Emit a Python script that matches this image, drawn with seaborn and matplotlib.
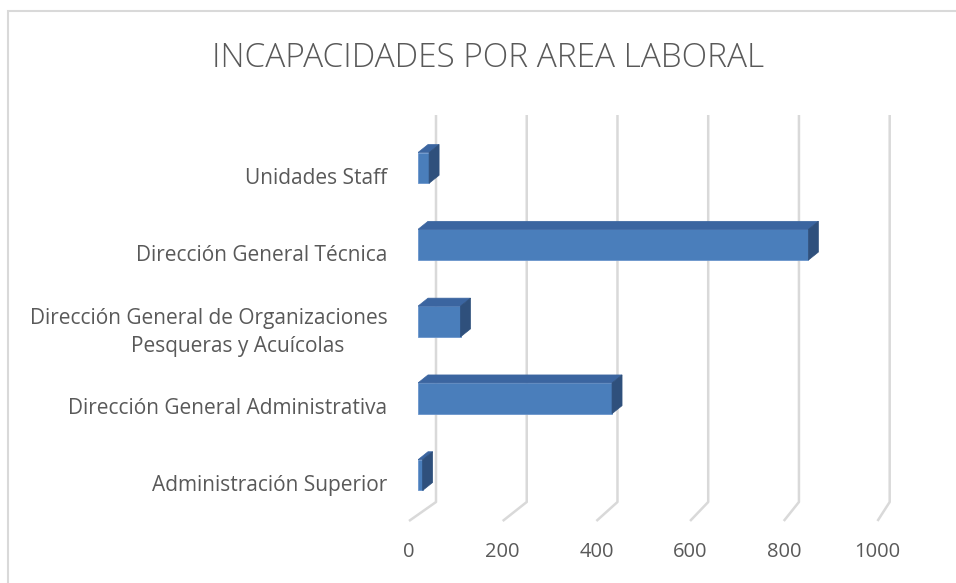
import matplotlib
matplotlib.use("Agg")
import matplotlib.pyplot as plt
from matplotlib.transforms import IdentityTransform, ScaledTranslation
from matplotlib.patches import Polygon, Rectangle
from matplotlib.lines import Line2D
import seaborn as sns
import pandas as pd

# ---- data ----
areas = [
    "Unidades Staff",
    "Dirección General Técnica",
    "Dirección General de Organizaciones\nPesqueras y Acuícolas        ",
    "Dirección General Administrativa",
    "Administración Superior",
]
valores = [24, 845, 92, 420, 10]
xticks = [0, 200, 400, 600, 800, 1000]
title = "INCAPACIDADES POR AREA LABORAL"

df = pd.DataFrame({"area": areas, "valor": valores})

sns.set_theme(style="white")
plt.rcParams["font.family"] = ["Open Sans", "DejaVu Sans"]

W, H = 956, 583
FRONT = "#4a7ebb"
TOP = "#3b65a0"
SIDE = "#2f507c"
TXT = "#595959"
GRID = "#d9d9d9"

fig = plt.figure(figsize=(W / 100, H / 100), dpi=100)
fig.patch.set_facecolor("white")

ax_left, ax_right, ax_top, ax_bot = 418, 880, 129.5, 513.5
ax = fig.add_axes([ax_left / W, (H - ax_bot) / H, (ax_right - ax_left) / W, (ax_bot - ax_top) / H])
ax.patch.set_visible(False)

sns.barplot(data=df, y="area", x="valor", orient="h", width=0.4, color=FRONT,
            saturation=1, ax=ax, edgecolor="#6a95cc", linewidth=0.6, zorder=3)
ax.set_xlim(0, 1000)
ax.set_xlabel("")
ax.set_ylabel("")
for s in ax.spines.values():
    s.set_visible(False)
ax.set_xticks([])
ax.tick_params(axis="y", length=0, pad=22, labelsize=15, labelcolor=TXT)
for lab in ax.get_yticklabels():
    shift = -5 if "\n" in lab.get_text() else -8
    off = ScaledTranslation(0, shift / 100, fig.dpi_scale_trans)
    lab.set_transform(lab.get_transform() + off)
    lab.set_multialignment("right")
    lab.set_linespacing(1.45)

# ---- 3D tops and sides derived from the bar patches ----
dx, dy = 10, 8
for p in list(ax.patches):
    bb = p.get_window_extent()
    x0, y0, x1, y1 = bb.x0, bb.y0, bb.x1, bb.y1
    top = Polygon([(x0, y1), (x1, y1), (x1 + dx, y1 + dy), (x0 + dx, y1 + dy)],
                  closed=True, transform=IdentityTransform(), facecolor=TOP,
                  edgecolor=TOP, linewidth=0.5, zorder=4)
    side = Polygon([(x1, y0), (x1, y1), (x1 + dx, y1 + dy), (x1 + dx, y0 + dy)],
                   closed=True, transform=IdentityTransform(), facecolor=SIDE,
                   edgecolor=SIDE, linewidth=0.5, zorder=4)
    ax.add_artist(top)
    ax.add_artist(side)

# ---- perspective gridlines and x tick labels ----
face0 = ax.transData.transform((0, 0))[0]
for v in xticks:
    face = ax.transData.transform((v, 0))[0]
    bx = face0 + 18 + (face - face0) * 0.982
    fx = face0 - 9 + (face - face0) * 1.014
    ln = Line2D([bx, bx, fx], [H - 115, H - 502, H - 521], transform=IdentityTransform(),
                color=GRID, linewidth=1.8, zorder=-1, solid_capstyle="butt")
    fig.add_artist(ln)
    fig.text(fx, H - 552, f"{v}", transform=IdentityTransform(), ha="center", va="center",
             fontsize=14.5, color=TXT)

# ---- title and outer border ----
fig.text(488 / W, 1 - 58 / H, title, ha="center", va="center", fontsize=24,
         color=TXT, fontweight="light")
fig.add_artist(Rectangle((8, -20), 1000, H - 11 + 20, transform=IdentityTransform(),
                         fill=False, edgecolor="#d9d9d9", linewidth=1.5, zorder=-2))

fig.savefig("out.png", dpi=100, facecolor="white")
